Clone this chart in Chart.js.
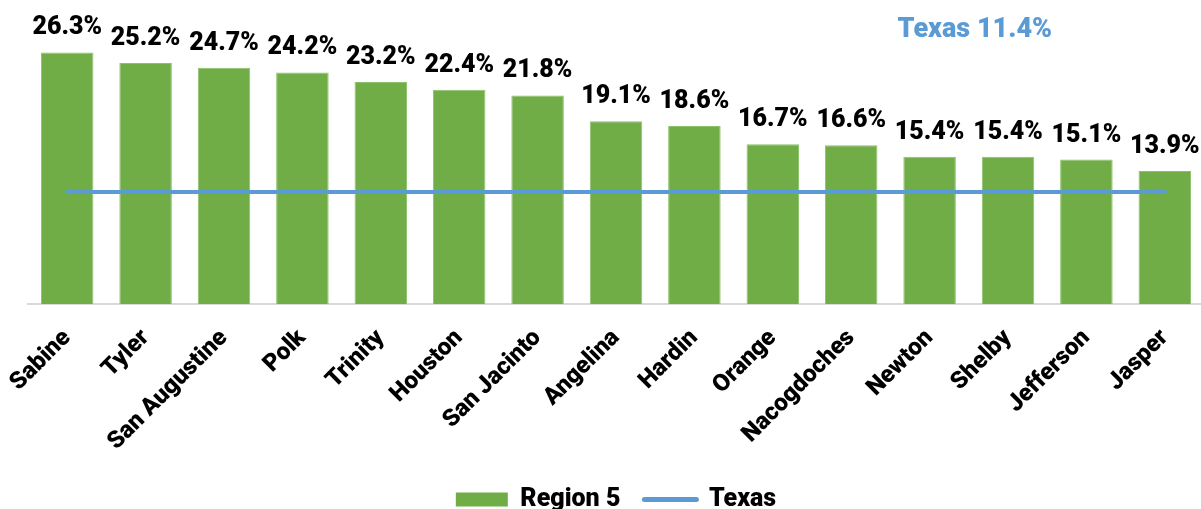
<!DOCTYPE html>
<html><head><meta charset="utf-8">
<script src="https://cdn.jsdelivr.net/npm/chart.js@4.4.1/dist/chart.umd.min.js"></script>
<style>html,body{margin:0;padding:0;background:#fff;overflow:hidden}#wrap{width:1204px;height:509px;position:relative}</style>
</head><body><div id="wrap"><canvas id="c"></canvas></div>
<script>
const categories = ['Sabine','Tyler','San Augustine','Polk','Trinity','Houston','San Jacinto','Angelina','Hardin','Orange','Nacogdoches','Newton','Shelby','Jefferson','Jasper'];
const region5 = [26.3,25.2,24.7,24.2,23.2,22.4,21.8,19.1,18.6,16.7,16.6,15.4,15.4,15.1,13.9];
const texas = [11.7,11.7,11.7,11.7,11.7,11.7,11.7,11.7,11.7,11.7,11.7,11.7,11.7,11.7,11.7];
const texasLabel = 'Texas 11.4%';
const seriesNames = ['Region 5','Texas'];

const GREEN = '#70AD47', BLUE = '#5B9BD5';
const FONT = 'Roboto';
const W = '900';

const labelPlugin = {
  id: 'valLabels',
  afterDatasetsDraw(chart) {
    const ctx = chart.ctx;
    const meta = chart.getDatasetMeta(1);
    ctx.save();
    ctx.font = W + ' 25px ' + FONT;
    ctx.fillStyle = '#000';
    ctx.textAlign = 'center';
    ctx.textBaseline = 'alphabetic';
    meta.data.forEach((bar, i) => {
      ctx.fillText(region5[i].toFixed(1) + '%', bar.x, bar.y - 18);
    });
    const xs = chart.scales.x, ys = chart.scales.y;
    const tx = (xs.getPixelForValue(11) + xs.getPixelForValue(12)) / 2 + 6;
    ctx.font = W + ' 27px ' + FONT;
    ctx.fillStyle = BLUE;
    ctx.fillText(texasLabel, tx, ys.getPixelForValue(27.9));
    ctx.restore();
  }
};

new Chart(document.getElementById('c'), {
  data: {
    labels: categories,
    datasets: [
      { type: 'line', label: seriesNames[1], data: texas, borderColor: BLUE, backgroundColor: BLUE,
        borderWidth: 4, pointRadius: 0, borderCapStyle: 'round', order: 0 },
      { type: 'bar', label: seriesNames[0], data: region5, backgroundColor: GREEN,
        borderColor: '#8CC26A', borderWidth: 1, barPercentage: 0.67, categoryPercentage: 1, order: 1 }
    ]
  },
  options: {
    responsive: true, maintainAspectRatio: false, animation: false,
    layout: { padding: { left: 28, right: 0, top: 17, bottom: -13 } },
    plugins: {
      tooltip: { enabled: false },
      legend: {
        position: 'bottom',
        labels: {
          usePointStyle: true, pointStyleWidth: 52, boxHeight: 14, padding: 24,
          color: '#000', font: { family: FONT, size: 25, weight: W },
          generateLabels(chart) {
            return [
              { text: seriesNames[0], fillStyle: GREEN, strokeStyle: GREEN, lineWidth: 0, pointStyle: 'rect', datasetIndex: 1, fontColor: '#000' },
              { text: seriesNames[1], fillStyle: BLUE, strokeStyle: BLUE, lineWidth: 5, lineCap: 'round', pointStyle: 'line', datasetIndex: 0, fontColor: '#000' }
            ];
          }
        }
      }
    },
    scales: {
      x: {
        grid: { display: false, drawTicks: false },
        border: { display: true, color: '#D9D9D9', width: 2 },
        ticks: { autoSkip: false, minRotation: 45, maxRotation: 45, padding: 20, color: '#000',
                 font: { family: FONT, size: 24, weight: W } },
        afterFit(scale) { scale.height = 159; scale.paddingLeft = 0; scale.paddingRight = 0; }
      },
      y: { display: false, min: 0, max: 30 }
    }
  },
  plugins: [labelPlugin]
});
</script></body></html>
